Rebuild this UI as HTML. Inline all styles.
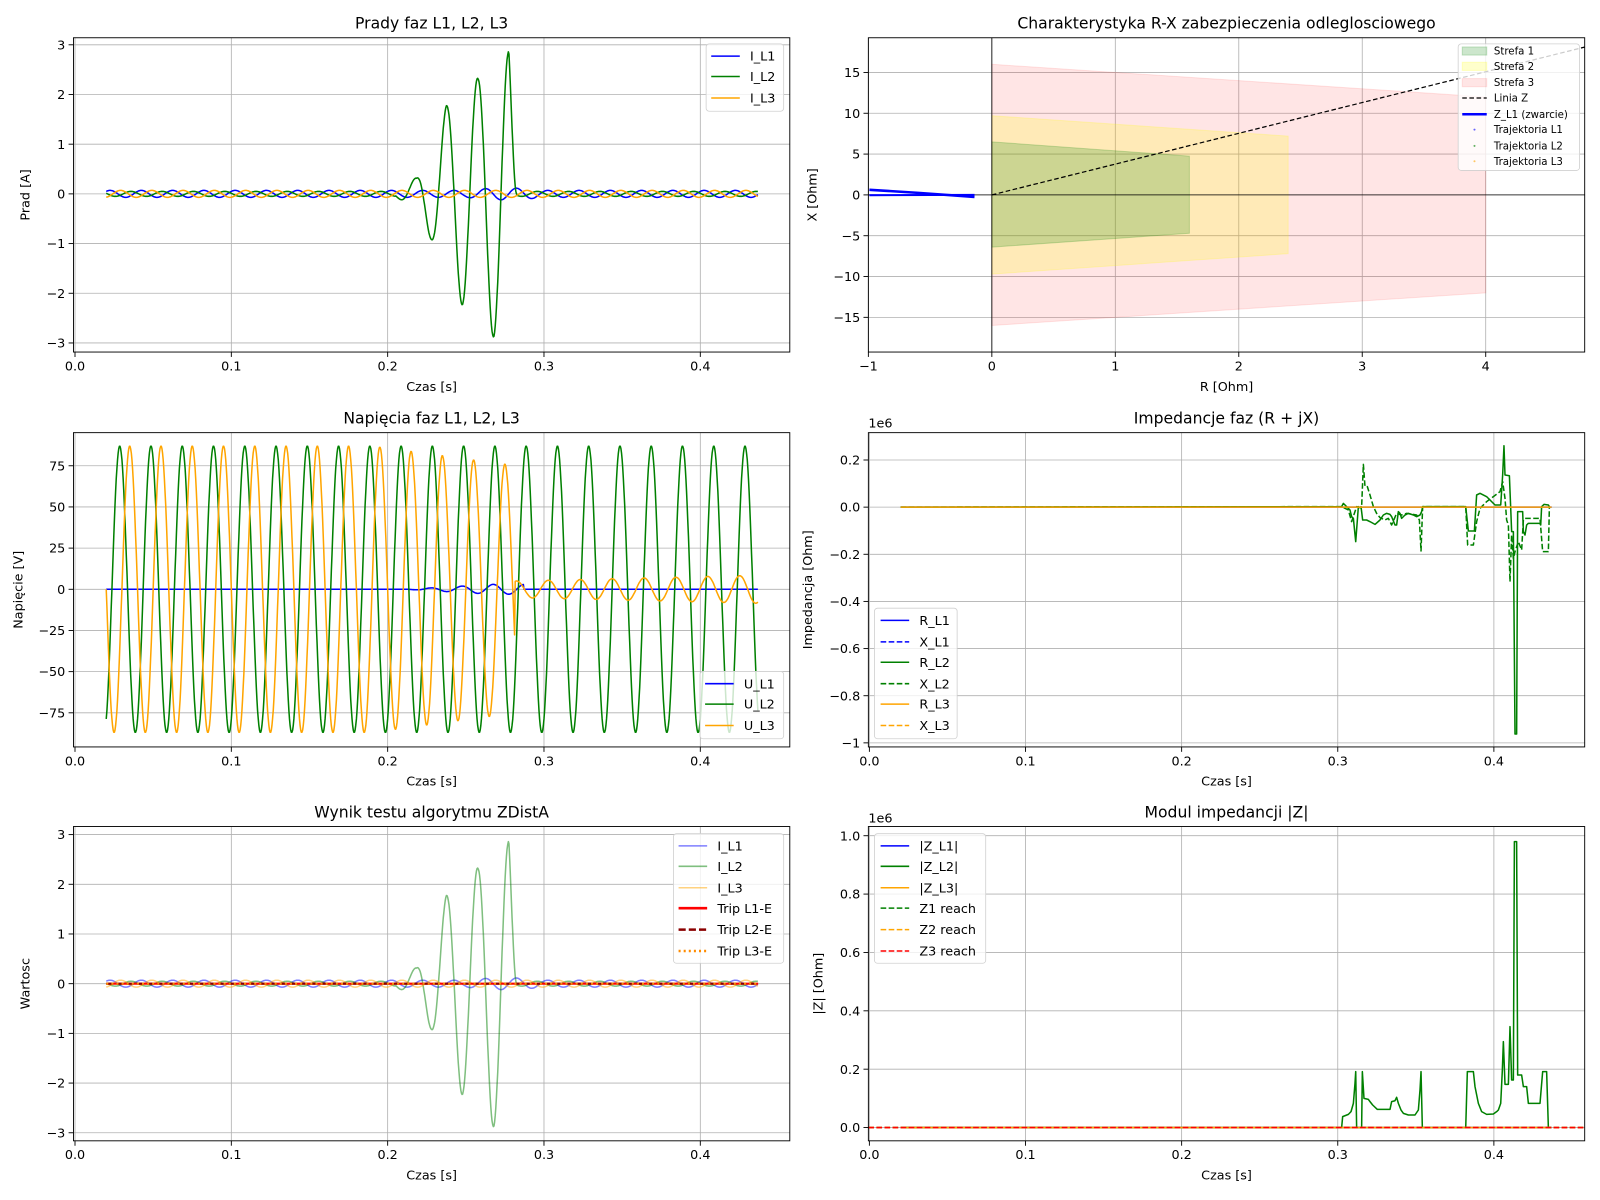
<!DOCTYPE html>
<html><head><meta charset="utf-8"><style>body{margin:0;background:#fff}svg{display:block}text{font-family:"DejaVu Sans","Liberation Sans",sans-serif;fill:#000}</style></head>
<body>
<svg id="s" width="1600" height="1200" viewBox="0 0 1568 1176" xmlns="http://www.w3.org/2000/svg"></svg>
<script>
let o='';
const F=12.5;
const M='\u2212';
function line(x1,y1,x2,y2,c,w,d,op){o+=`<line x1="${x1}" y1="${y1}" x2="${x2}" y2="${y2}" stroke="${c}" stroke-width="${w}"${d?` stroke-dasharray="${d}"`:''}${op?` stroke-opacity="${op}"`:''}/>`;}
function txt(x,y,s,a,sz,extra){o+=`<text x="${x}" y="${y}" font-size="${sz||F}" text-anchor="${a||'middle'}" ${extra||''}>${s}</text>`;}
function poly(pts,c,w,d,op){o+=`<polyline fill="none" stroke="${c}" stroke-width="${w}" stroke-linejoin="round" ${d?`stroke-dasharray="${d}"`:''} ${op?`stroke-opacity="${op}"`:''} points="${pts.map(p=>p[0].toFixed(1)+','+p[1].toFixed(1)).join(' ')}"/>`;}
function fmt(v){return v<0?M+String(-v):String(v);}
let clipId=0;
function axesStart(b){clipId++;o+=`<defs><clipPath id="c${clipId}"><rect x="${b.x0}" y="${b.y0}" width="${b.x1-b.x0}" height="${b.y1-b.y0}"/></clipPath></defs>`;}
function grid(b,xt,yt){
  xt.forEach(([p])=>{if(p>=b.x0-0.5&&p<=b.x1+0.5)line(p,b.y0,p,b.y1,'#b0b0b0',0.8);});
  yt.forEach(([p])=>{if(p>=b.y0-0.5&&p<=b.y1+0.5)line(b.x0,p,b.x1,p,'#b0b0b0',0.8);});
}
function frame(b,xt,yt,title,xl,yl,ylx){
  o+=`<rect x="${b.x0}" y="${b.y0}" width="${b.x1-b.x0}" height="${b.y1-b.y0}" fill="none" stroke="#000" stroke-width="0.9"/>`;
  xt.forEach(([p,l])=>{line(p,b.y1,p,b.y1+4.8,'#000',0.9);txt(p,b.y1+18,l);});
  yt.forEach(([p,l])=>{line(b.x0-4.8,p,b.x0,p,'#000',0.9);txt(b.x0-8,p+4.5,l,'end');});
  txt((b.x0+b.x1)/2,b.y0-9,title,'middle',15.3);
  txt((b.x0+b.x1)/2,b.y1+38,xl);
  const cy=(b.y0+b.y1)/2;
  o+=`<text x="${ylx}" y="${cy}" font-size="${F}" text-anchor="middle" transform="rotate(-90 ${ylx} ${cy})">${yl}</text>`;
}
function gs(){o+=`<g clip-path="url(#c${clipId})">`;}
function ge(){o+='</g>';}
function legend(x,y,w,h,items,x0,x1,tx,sz){
  o+=`<rect x="${x}" y="${y}" width="${w}" height="${h}" rx="3" fill="#fff" fill-opacity="0.8" stroke="#d0d0d0" stroke-width="0.8"/>`;
  items.forEach(it=>{
    if(it.t==='patch'){o+=`<rect x="${x0}" y="${it.y-4}" width="${x1-x0}" height="8" fill="${it.c}" fill-opacity="${it.op}" stroke="${it.c}" stroke-opacity="${it.op}"/>`;}
    else if(it.t==='dot'){o+=`<circle cx="${(x0+x1)/2}" cy="${it.y}" r="1" fill="${it.c}" fill-opacity="0.6"/>`;}
    else line(x0,it.y,x1,it.y,it.c,it.w||1.5,it.d,it.op);
    txt(tx,it.y+(sz?3.5:4.5),it.l,'start',sz||F);
  });
}
function interp(tab,t){if(t<=tab[0][0])return tab[0][1];for(let i=1;i<tab.length;i++){if(t<=tab[i][0]){const a=tab[i-1],b=tab[i];return a[1]+(b[1]-a[1])*(t-a[0])/(b[0]-a[0]);}}return tab[tab.length-1][1];}
const W=2*Math.PI*50;
const T0=0.02,T1=0.437,DT=0.0004;
const ts=[];for(let t=T0;t<=T1+1e-9;t+=DT)ts.push(t);
const env=[[0.205,0.05],[0.2185,0.33],[0.228,0.93],[0.2375,1.77],[0.248,2.25],[0.258,2.33],[0.268,2.9],[0.2775,2.87],[0.2825,0.05]];
function I1(t){let a=0.07;if(t>0.25&&t<0.3)a=0.07+0.05*Math.sin(Math.PI*(t-0.25)/0.05);return a*Math.sin(W*t+0.8);}
function I3(t){return 0.07*Math.sin(W*t+0.8-2.1);}
function I2(t){if(t>0.205&&t<0.2825)return interp(env,t)*Math.sin(W*(t-0.2325));return 0.05*Math.sin(W*t+0.8+2.1);}
function U2(t){return 87*Math.cos(W*(t-0.0086));}
function U3(t){if(t<0.2815){const A=t<0.19?87:87-(t-0.19)/0.085*11;return A*Math.cos(W*(t-0.195));}
  const A=5+(t-0.2815)/0.155*3.5;return A*Math.cos(2*Math.PI*(t-0.3028)/0.0204);}
function U1(t){if(t>0.212&&t<0.287){const A=Math.min(3,(t-0.212)/0.055*3);return A*Math.cos(W*(t-0.2275));}return 0;}

const tx=t=>73.5+1532*t;
const xtL=[0,0.1,0.2,0.3,0.4].map(v=>[tx(v),v.toFixed(1)]);
// Panel 1
let b={x0:72,x1:774,y0:37,y1:345};
let ym=v=>190-48.7*v;
axesStart(b);grid(b,xtL,[-3,-2,-1,0,1,2,3].map(v=>[ym(v),fmt(v)]));gs();
poly(ts.map(t=>[tx(t),ym(I1(t))]),'#0000ff',1.5);
poly(ts.map(t=>[tx(t),ym(I2(t))]),'#008000',1.5);
poly(ts.map(t=>[tx(t),ym(I3(t))]),'#ffa500',1.5);
ge();frame(b,xtL,[-3,-2,-1,0,1,2,3].map(v=>[ym(v),fmt(v)]),'Prady faz L1, L2, L3','Czas [s]','Prad [A]',29);
legend(692,43,76,66,[{c:'#0000ff',l:'I_L1',y:55},{c:'#008000',l:'I_L2',y:75},{c:'#ffa500',l:'I_L3',y:96}],697,725,735);

// Panel 2
b={x0:851,x1:1553,y0:37,y1:345};
const rx=r=>972+121*r, xy=v=>191-8*v;
const xt2=[-1,0,1,2,3,4].map(v=>[rx(v),fmt(v)]);
const yt2=[-15,-10,-5,0,5,10,15].map(v=>[xy(v),fmt(v)]);
axesStart(b);grid(b,xt2,yt2);gs();
const pg=(pts,c,op,sw)=>{o+=`<polygon points="${pts.map(p=>rx(p[0])+','+xy(p[1])).join(' ')}" fill="${c}" fill-opacity="${op}" stroke="${c}" stroke-opacity="${op}" stroke-width="${sw||1}"/>`;};
pg([[0,16],[4,12],[4,-12],[0,-16]],'#ff0000',0.1);
pg([[0,9.7],[2.4,7.2],[2.4,-7.2],[0,-9.7]],'#ffff00',0.2);
pg([[0,6.5],[1.6,4.75],[1.6,-4.7],[0,-6.4]],'#008000',0.2);
line(b.x0,xy(0),b.x1,xy(0),'#000',0.8);line(rx(0),b.y0,rx(0),b.y1,'#000',0.8);
line(rx(0),xy(0),rx(4.8),xy(18.1),'#000',1.2,'4.5,2.5');
poly([[852,186],[900,189],[955,193]],'#0000ff',2.5);
poly([[852,191.3],[955,191]],'#0000ff',2);
ge();frame(b,xt2,yt2,'Charakterystyka R-X zabezpieczenia odleglosciowego','R [Ohm]','X [Ohm]',800);
legend(1429,43,119,124,[
 {t:'patch',c:'#008000',op:0.2,l:'Strefa 1',y:50},{t:'patch',c:'#ffff00',op:0.2,l:'Strefa 2',y:65},{t:'patch',c:'#ff0000',op:0.1,l:'Strefa 3',y:81},
 {c:'#000',w:1.2,d:'4.5,2.5',l:'Linia Z',y:96},{c:'#0000ff',w:2.5,l:'Z_L1 (zwarcie)',y:112},
 {t:'dot',c:'#0000ff',l:'Trajektoria L1',y:127},{t:'dot',c:'#008000',l:'Trajektoria L2',y:143},{t:'dot',c:'#ffa500',l:'Trajektoria L3',y:158}],1433,1457,1464,10);

// Panel 3
b={x0:72,x1:774,y0:424,y1:732};
ym=v=>577.5-1.614*v;
const yt3=[-75,-50,-25,0,25,50,75].map(v=>[ym(v),fmt(v)]);
axesStart(b);grid(b,xtL,yt3);gs();
poly(ts.map(t=>[tx(t),ym(U1(t))]),'#0000ff',1.5);
poly(ts.map(t=>[tx(t),ym(U2(t))]),'#008000',1.5);
poly(ts.map(t=>[tx(t),ym(U3(t))]),'#ffa500',1.5);
ge();frame(b,xtL,yt3,'Napięcia faz L1, L2, L3','Czas [s]','Napięcie [V]',22);
legend(686,658,82,66,[{c:'#0000ff',l:'U_L1',y:670},{c:'#008000',l:'U_L2',y:690},{c:'#ffa500',l:'U_L3',y:711}],691,719,729);

// Panel 4
b={x0:851,x1:1553,y0:424,y1:732};
const tx4=t=>852+1530*t;
const xtR=[0,0.1,0.2,0.3,0.4].map(v=>[tx4(v),v.toFixed(1)]);
ym=v=>497-231*v;
const yt4=[0.2,0,-0.2,-0.4,-0.6,-0.8,-1.0].map(v=>[ym(v),fmt(v.toFixed(1))]);
axesStart(b);grid(b,xtR,yt4);gs();
const cz=(pts,ox,oy)=>pts.map(p=>[(ox+p[0]/3)/1.0204,(oy+p[1]/3)/1.0204]);
const z0=ym(0);
poly([[tx4(0.02),z0],[tx4(0.437),z0]],'#0000ff',1.5);
const rl2=[[155,245],[160,235],[165,240],[180,255],[185,275],[190,280],[197,350],[205,245],[210,248],[213,245],[218,285],[230,285],[240,290],[255,298],[270,285],[280,270],[290,265],[300,268],[305,275],[315,300],[320,300],[325,260],[330,265],[335,280],[345,270],[355,265],[370,270],[380,275],[390,270],[395,260],[398,245],[527,245],[535,318],[553,318],[560,210],[570,205],[590,215],[600,225],[615,240],[632,240],[638,150],[642,62],[645,150],[658,152],[662,250],[665,320],[670,320],[675,927],[680,927],[683,260],[698,260],[700,320],[705,330],[710,300],[715,295],[750,295],[752,300],[755,245],[762,238],[775,240],[778,245]];
const xl2=[[155,245],[175,255],[185,290],[200,245],[210,248],[215,245],[220,118],[225,185],[232,185],[240,210],[250,245],[260,265],[270,278],[285,285],[295,280],[305,300],[320,265],[335,270],[350,265],[380,270],[388,285],[393,378],[398,245],[527,245],[533,360],[550,360],[560,290],[570,250],[590,230],[610,215],[630,200],[638,170],[645,220],[650,285],[655,300],[660,470],[665,330],[670,400],[675,380],[685,350],[695,375],[700,285],[705,280],[750,280],[758,380],[775,380],[778,245]];
poly([[tx4(0.02),z0]].concat(cz(rl2,1290,425)),'#008000',1.5);
poly([[tx4(0.02),z0]].concat(cz(xl2,1290,425)),'#008000',1.5,'5.5,2.4');
poly([[tx4(0.02),z0],[tx4(0.437),z0]],'#ffa500',1.5);
ge();frame(b,xtR,yt4,'Impedancje faz (R + jX)','Czas [s]','Impedancja [Ohm]',796);
txt(851,419,'1e6','start');
legend(857,596,81,128,[{c:'#0000ff',l:'R_L1',y:608},{c:'#0000ff',d:'5.5,2.4',l:'X_L1',y:629},{c:'#008000',l:'R_L2',y:649},{c:'#008000',d:'5.5,2.4',l:'X_L2',y:670},{c:'#ffa500',l:'R_L3',y:690},{c:'#ffa500',d:'5.5,2.4',l:'X_L3',y:711}],863,891,901);

// Panel 5
b={x0:72,x1:774,y0:810,y1:1118};
ym=v=>964-48.7*v;
const yt5=[-3,-2,-1,0,1,2,3].map(v=>[ym(v),fmt(v)]);
axesStart(b);grid(b,xtL,yt5);gs();
poly(ts.map(t=>[tx(t),ym(I1(t))]),'#0000ff',1.5,null,0.5);
poly(ts.map(t=>[tx(t),ym(I2(t))]),'#008000',1.5,null,0.5);
poly(ts.map(t=>[tx(t),ym(I3(t))]),'#ffa500',1.5,null,0.5);
line(tx(0.02),ym(0),tx(0.437),ym(0),'#ff0000',2);
line(tx(0.02),ym(0),tx(0.437),ym(0),'#8b0000',2,'7,3');
line(tx(0.02),ym(0),tx(0.437),ym(0),'#ff8c00',2,'2,3');
ge();frame(b,xtL,yt5,'Wynik testu algorytmu ZDistA','Czas [s]','Wartosc',29);
legend(660,817,108,127,[{c:'#0000ff',op:0.5,l:'I_L1',y:829},{c:'#008000',op:0.5,l:'I_L2',y:849},{c:'#ffa500',op:0.5,l:'I_L3',y:870},{c:'#ff0000',w:2.5,l:'Trip L1-E',y:890},{c:'#8b0000',w:2.5,d:'7,3',l:'Trip L2-E',y:911},{c:'#ff8c00',w:2.5,d:'2,3',l:'Trip L3-E',y:932}],665,693,703);

// Panel 6
b={x0:851,x1:1553,y0:810,y1:1118};
ym=v=>1105-286*v;
const yt6=[0,0.2,0.4,0.6,0.8,1.0].map(v=>[ym(v),v.toFixed(1)]);
axesStart(b);grid(b,xtR,yt6);gs();
const z6=ym(0);
poly([[tx4(0.02),z6],[tx4(0.437),z6]],'#0000ff',1.5);
const zl2=[[155,953],[158,920],[175,913],[183,905],[190,880],[195,820],[197,785],[200,953],[215,953],[217,785],[222,865],[235,868],[240,875],[248,885],[262,898],[300,898],[305,875],[315,872],[320,862],[325,880],[333,900],[340,910],[355,915],[375,915],[385,900],[390,840],[393,785],[397,953],[527,953],[532,785],[550,785],[555,830],[565,880],[575,905],[590,913],[610,912],[620,905],[625,900],[632,880],[637,780],[640,695],[645,823],[655,823],[660,650],[665,810],[670,810],[673,95],[680,95],[683,795],[695,795],[700,830],[710,830],[715,880],[750,880],[758,785],[770,785],[775,953]];
poly([[tx4(0.02),z6]].concat(cz(zl2,1290,810)),'#008000',1.5);
poly([[tx4(0.02),z6],[tx4(0.437),z6]],'#ffa500',1.5);
line(b.x0,z6,b.x1,z6,'#008000',1.5,'5.5,2.4');
line(b.x0,z6,b.x1,z6,'#ffa500',1.5,'5.5,2.4');
line(b.x0,z6,b.x1,z6,'#ff0000',1.5,'5.5,2.4');
ge();frame(b,xtR,yt6,'Modul impedancji |Z|','Czas [s]','|Z| [Ohm]',806);
txt(851,806,'1e6','start');
legend(857,817,109,127,[{c:'#0000ff',l:'|Z_L1|',y:829},{c:'#008000',l:'|Z_L2|',y:849},{c:'#ffa500',l:'|Z_L3|',y:870},{c:'#008000',d:'5.5,2.4',l:'Z1 reach',y:890},{c:'#ffa500',d:'5.5,2.4',l:'Z2 reach',y:911},{c:'#ff0000',d:'5.5,2.4',l:'Z3 reach',y:932}],863,891,901);

document.getElementById('s').innerHTML=o;
</script>
</body></html>
